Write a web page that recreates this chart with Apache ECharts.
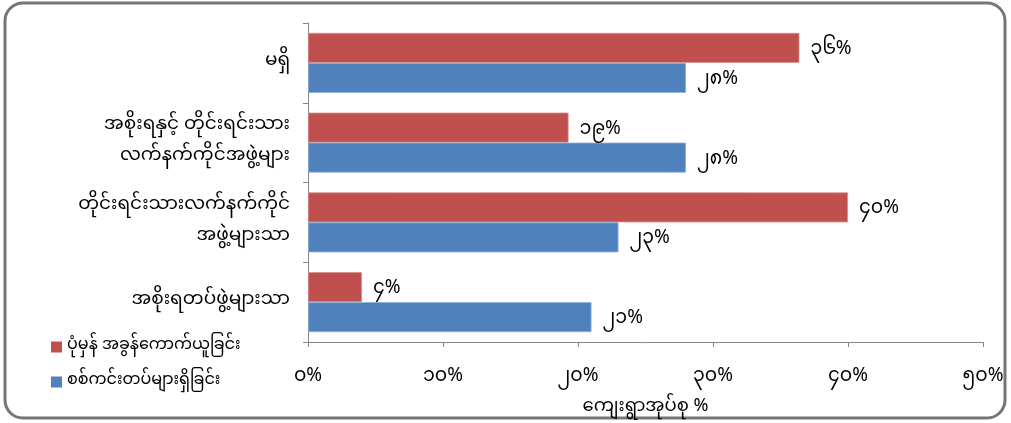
<!DOCTYPE html>
<html><head><meta charset="utf-8">
<script src="https://cdn.jsdelivr.net/npm/echarts@6/dist/echarts.min.js"></script>
<style>html,body{margin:0;padding:0;background:#fff}#c{width:1011px;height:423px}</style>
</head><body><div id="c"></div>
<script>
const categories = ['မရှိ', 'အစိုးရနှင့် တိုင်းရင်းသား\nလက်နက်ကိုင်အဖွဲ့များ', 'တိုင်းရင်းသားလက်နက်ကိုင်\nအဖွဲ့များသာ', 'အစိုးရတပ်ဖွဲ့များသာ'];
const seriesNames = ['ပုံမှန် အခွန်ကောက်ယူခြင်း', 'စစ်ကင်းတပ်များရှိခြင်း'];
const taxValues = [36.4, 19.3, 40, 4];
const checkpointValues = [28, 28, 23, 21];
const xTickLabels = ['၀%', '၁၀%', '၂၀%', '၃၀%', '၄၀%', '၅၀%'];
const xAxisTitle = 'ကျေးရွာအုပ်စု %';

const mmDigits = '၀၁၂၃၄၅၆၇၈၉';
function toMM(n){ return String(Math.round(n)).replace(/[0-9]/g, d => mmDigits[+d]); }
const font = '"Noto Sans Myanmar","Padauk","Myanmar Text","Noto Sans","DejaVu Sans",sans-serif';

const chart = echarts.init(document.getElementById('c'));
const lbl = {show:true, position:'right', distance:11, offset:[0,4], fontSize:19, color:'#000', formatter:p=>toMM(p.value)+'%'};
chart.setOption({
  animation:false,
  textStyle:{fontFamily:font},
  graphic:[{type:'rect', shape:{x:5,y:3,width:1000,height:415,r:18}, style:{fill:'none', stroke:'#767676', lineWidth:3}, silent:true}],
  legend:{
    orient:'vertical', left:46, top:334, itemWidth:11, itemHeight:11, itemGap:19,
    icon:'rect', itemStyle:{borderWidth:0}, textStyle:{fontSize:16, color:'#000', fontFamily:font},
    data:seriesNames
  },
  grid:{left:308, right:28, top:23, bottom:76, containLabel:false},
  xAxis:{
    type:'value', min:0, max:50, interval:10,
    axisLine:{show:true, lineStyle:{color:'#868686'}},
    axisTick:{show:true, length:5, lineStyle:{color:'#868686'}},
    splitLine:{show:false},
    axisLabel:{fontSize:19, color:'#000', margin:27, formatter:v=>xTickLabels[Math.round(v/10)]},
    name:xAxisTitle, nameLocation:'middle', nameGap:58,
    nameTextStyle:{fontSize:18, color:'#000'}
  },
  yAxis:{
    type:'category', data:categories, inverse:true,
    axisLine:{show:true, lineStyle:{color:'#868686'}},
    axisTick:{show:true, length:5, lineStyle:{color:'#868686'}},
    axisLabel:{fontSize:18.5, color:'#000', margin:18, lineHeight:31, align:'right'}
  },
  series:[
    {name:seriesNames[0], type:'bar', data:taxValues, barWidth:30, barGap:'0%',
     itemStyle:{color:'#C0504D', borderColor:'#d98e8c', borderWidth:0.8},
     label:lbl},
    {name:seriesNames[1], type:'bar', data:checkpointValues, barWidth:30, barGap:'0%',
     itemStyle:{color:'#4F81BD', borderColor:'#93b3db', borderWidth:0.8},
     label:lbl}
  ]
});
</script></body></html>
